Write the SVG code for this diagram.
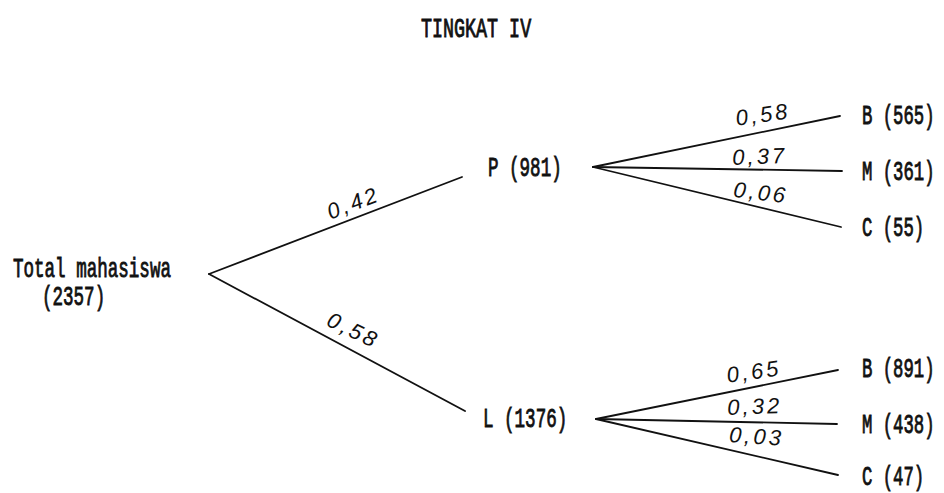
<svg xmlns="http://www.w3.org/2000/svg" width="944" height="493" viewBox="0 0 944 493">
<style>
.t{font-family:"Liberation Mono","DejaVu Sans Mono",monospace;font-size:27px;fill:#111;stroke:#111;stroke-width:0.9}
.h{font-family:"Liberation Sans",Arial,sans-serif;font-style:italic;font-size:22px;letter-spacing:3px;fill:#111}
.c line{stroke:#111;stroke-width:1.8;stroke-linecap:round}
</style>
<rect width="944" height="493" fill="#fff"/>
<text class="t" transform="translate(421,37) scale(0.68,1.05)">TINGKAT IV</text>
<g class="c" id="connectors">
<line x1="209" y1="274" x2="462" y2="177"/>
<line x1="209" y1="274" x2="465" y2="411"/>
<line x1="593" y1="167" x2="840" y2="116"/>
<line x1="593" y1="167" x2="842" y2="171"/>
<line x1="593" y1="167" x2="841" y2="227"/>
<line x1="596" y1="419" x2="838" y2="370"/>
<line x1="596" y1="419" x2="837" y2="424"/>
<line x1="596" y1="419" x2="838" y2="475"/>
</g>
<g id="labels">
<text class="h" transform="translate(356,210) rotate(-21)" text-anchor="middle">0,42</text>
<text class="h" transform="translate(350,337) rotate(26)" text-anchor="middle">0,58</text>
<text class="h" transform="translate(764,122) rotate(-8)" text-anchor="middle">0,58</text>
<text class="h" transform="translate(760,164) rotate(-2)" text-anchor="middle">0,37</text>
<text class="h" transform="translate(760,200) rotate(7)" text-anchor="middle">0,06</text>
<text class="h" transform="translate(755,379) rotate(-8)" text-anchor="middle">0,65</text>
<text class="h" transform="translate(755,414) rotate(-2)" text-anchor="middle">0,32</text>
<text class="h" transform="translate(756,444) rotate(4)" text-anchor="middle">0,03</text>
</g>
<g id="root"><text class="t" transform="translate(13,277) scale(0.65,1)">Total mahasiswa</text><text class="t" transform="translate(42,305) scale(0.65,1)">(2357)</text></g>
<g id="P"><text class="t" transform="translate(488,176) scale(0.65,1)">P (981)</text></g>
<g id="L"><text class="t" transform="translate(483,427) scale(0.65,1)">L (1376)</text></g>
<g id="PB"><text class="t" transform="translate(862,124) scale(0.64,1)">B (565)</text></g>
<g id="PM"><text class="t" transform="translate(862,180) scale(0.64,1)">M (361)</text></g>
<g id="PC"><text class="t" transform="translate(862,236) scale(0.64,1)">C (55)</text></g>
<g id="LB"><text class="t" transform="translate(862,377) scale(0.64,1)">B (891)</text></g>
<g id="LM"><text class="t" transform="translate(862,433) scale(0.64,1)">M (438)</text></g>
<g id="LC"><text class="t" transform="translate(862,485) scale(0.64,1)">C (47)</text></g>
</svg>
